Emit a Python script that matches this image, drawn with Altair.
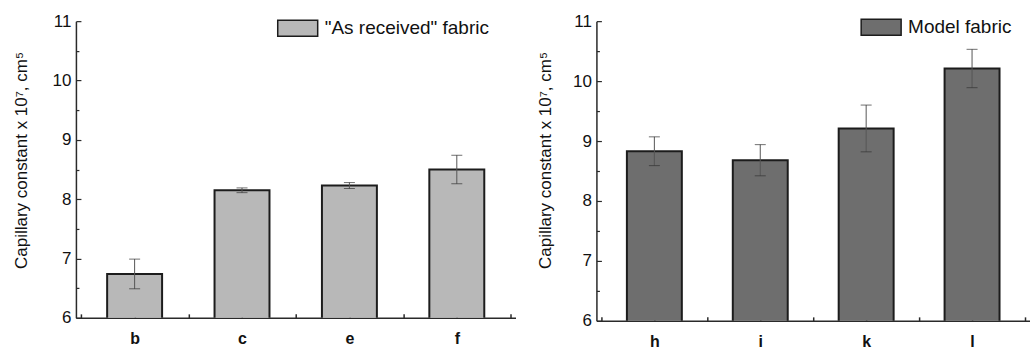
import json
import altair as alt
import pandas as pd

# ---- data ----
left_cats = ["b", "c", "e", "f"]
left_vals = [6.74, 8.15, 8.23, 8.50]
left_errs = [0.25, 0.04, 0.05, 0.24]
left_series = '"As received" fabric'

right_cats = ["h", "i", "k", "l"]
right_vals = [8.83, 8.68, 9.21, 10.21]
right_errs = [0.24, 0.26, 0.39, 0.32]
right_series = "Model fabric"

y_domain = [6, 11]
y_major = [6, 7, 8, 9, 10, 11]
y_minor = [6.5, 7.5, 8.5, 9.5, 10.5]
y_title = "Capillary constant x 10\u2077, cm\u2075"

FONT = "Liberation Sans"
DARK = "#2a2a2a"


def panel(cats, vals, errs, series, fill, width, height, bar_w,
          title_pad, title_y, legend_x, legend_y):
    n = len(cats)
    df = pd.DataFrame({
        "idx": list(range(n)),
        "cat": cats,
        "value": vals,
        "lo": [v - e for v, e in zip(vals, errs)],
        "hi": [v + e for v, e in zip(vals, errs)],
        "series": [series] * n,
    })
    x_ticks = [i * 0.5 - 0.5 for i in range(2 * n + 1)]
    xscale = alt.Scale(domain=[-0.5, n - 0.5], nice=False, zero=False)
    yscale = alt.Scale(domain=y_domain, nice=False, zero=False)
    label_expr = json.dumps(cats) + "[datum.value]"

    bars = alt.Chart(df).mark_bar(
        size=bar_w, stroke="#1c1c1c", strokeWidth=2, clip=True
    ).encode(
        x=alt.X("idx:Q", scale=xscale, axis=alt.Axis(
            orient="bottom", values=list(range(n)), labelExpr=label_expr,
            ticks=False, tickSize=0, grid=False, title=None,
            domainColor=DARK, domainWidth=1.5,
            labelFont=FONT, labelFontSize=16, labelFontWeight="bold",
            labelColor="#111", labelPadding=13, labelFlush=False,
            labelOverlap=False)),
        y=alt.Y("value:Q", scale=yscale, axis=alt.Axis(
            orient="left", values=y_major, format="d", ticks=False,
            tickSize=0, grid=False, title=y_title,
            titleFont=FONT, titleFontSize=17, titleFontWeight="normal",
            titleColor="#111", titlePadding=title_pad, titleY=title_y,
            domainColor=DARK, domainWidth=1.5,
            labelFont=FONT, labelFontSize=17, labelColor="#111",
            labelPadding=5)),
        color=alt.Color("series:N", scale=alt.Scale(range=[fill]),
                        legend=alt.Legend(
                            orient="none", legendX=legend_x, legendY=legend_y,
                            title=None, padding=0, labelLimit=400,
                            symbolType="M-1,-0.4H1V0.4H-1Z", symbolSize=1600,
                            symbolStrokeColor="#1c1c1c", symbolStrokeWidth=1.5,
                            labelFont=FONT, labelFontSize=19,
                            labelColor="#111", labelOffset=6)),
    )

    whisk = alt.Chart(df).mark_rule(color="#555", strokeWidth=1).encode(
        x=alt.X("idx:Q", scale=xscale, axis=alt.Axis(
            orient="top", offset=-height, values=x_ticks, labels=False,
            domain=False, grid=False, title=None, tickSize=4,
            tickColor=DARK, tickWidth=1.5)),
        y=alt.Y("lo:Q", scale=yscale, axis=alt.Axis(
            orient="right", offset=-width, values=y_major, labels=False,
            domain=False, grid=False, title=None, tickSize=5,
            tickColor=DARK, tickWidth=1.2)),
        y2="hi:Q",
    )

    cap_lo = alt.Chart(df).mark_tick(
        orient="horizontal", size=11, thickness=1, color="#333"
    ).encode(
        x=alt.X("idx:Q", scale=xscale, axis=None),
        y=alt.Y("lo:Q", scale=yscale, axis=alt.Axis(
            orient="right", offset=-width, values=y_minor, labels=False,
            domain=False, grid=False, title=None, tickSize=3,
            tickColor=DARK, tickWidth=1.2)),
    )

    cap_hi = alt.Chart(df).mark_tick(
        orient="horizontal", size=11, thickness=1, color="#333"
    ).encode(
        x=alt.X("idx:Q", scale=xscale, axis=None),
        y=alt.Y("hi:Q", scale=yscale, axis=None),
    )

    return alt.layer(bars, whisk, cap_lo, cap_hi).resolve_scale(
        x="shared", y="shared"
    ).resolve_axis(
        x="independent", y="independent"
    ).properties(width=width, height=height)


left = panel(left_cats, left_vals, left_errs, left_series, "#b8b8b8",
             440, 297, 55, 22, 139, 201, -14)
right = panel(right_cats, right_vals, right_errs, right_series, "#6e6e6e",
              434, 300, 55, 18, 139, 264, -15)

chart = alt.hconcat(left, right, spacing=21).resolve_scale(
    color="independent"
).resolve_legend(
    color="independent"
).properties(
    padding={"left": 12, "top": 6, "right": 0, "bottom": 0},
    background="white",
).configure_view(stroke=None)

chart.save("out.html", embed_options={"renderer": "svg", "actions": False})
